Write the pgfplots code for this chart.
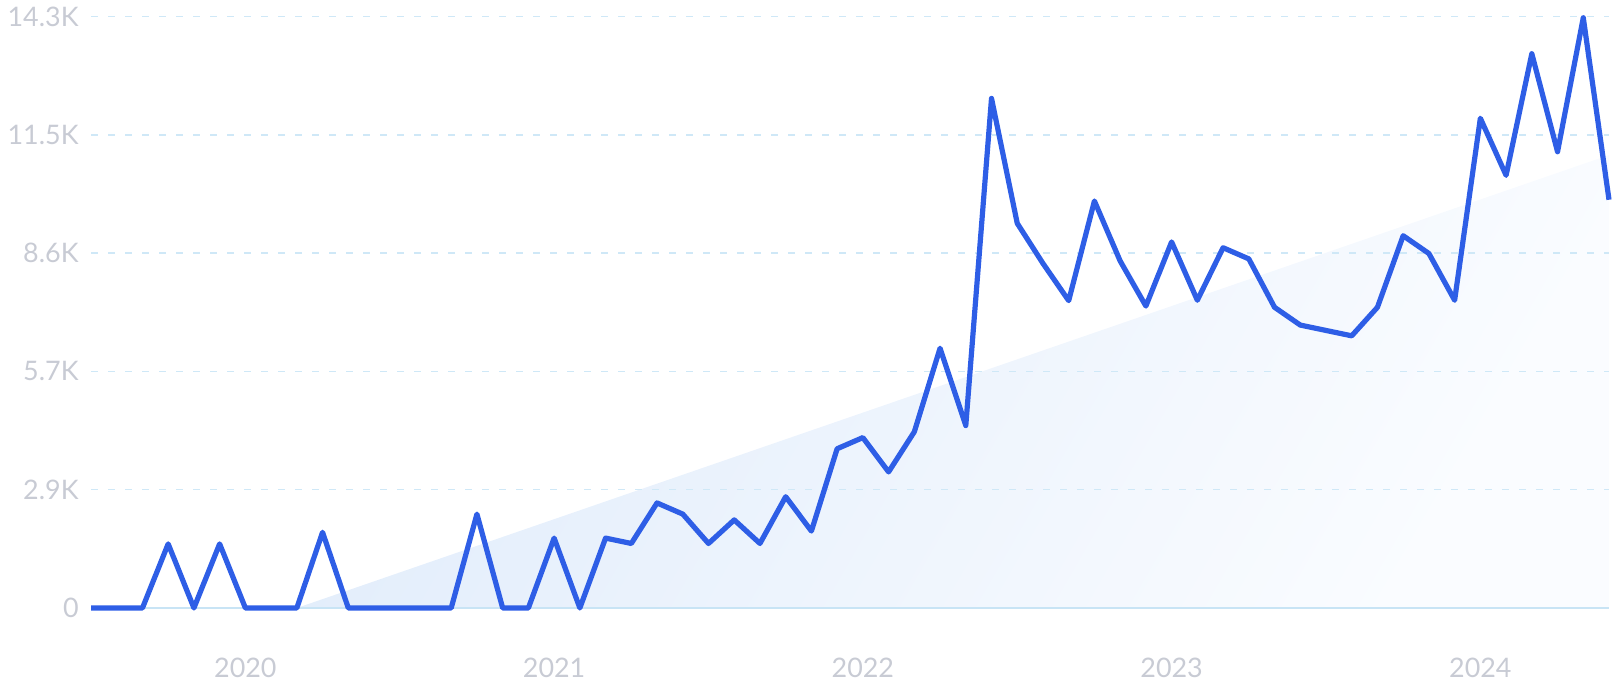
\documentclass[border=0pt]{standalone}
\usepackage{fontspec}
\setmainfont{Lato}
\usepackage{pgfplots}
\pgfplotsset{compat=1.18}
\usepackage{pgfplotstable}

\definecolor{linecol}{RGB}{46,94,230}
\definecolor{gridcol}{RGB}{207,232,247}
\definecolor{basecol}{RGB}{200,228,245}
\definecolor{labelcol}{RGB}{200,203,212}
\definecolor{fillA}{RGB}{226,237,251}
\definecolor{fillB}{RGB}{250,252,255}

% month index 0 = Jul 2019
\pgfplotstableread{
m v
0 0
1 0
2 0
3 1550
4 0
5 1550
6 0
7 0
8 0
9 1830
10 0
11 0
12 0
13 0
14 0
15 2270
16 0
17 0
18 1690
19 0
20 1690
21 1560
22 2540
23 2270
24 1560
25 2130
26 1560
27 2690
28 1860
29 3850
30 4120
31 3290
32 4260
33 6280
34 4410
35 12320
36 9300
37 8330
38 7430
39 9840
40 8390
41 7300
42 8850
43 7440
44 8710
45 8440
46 7270
47 6840
48 6710
49 6580
50 7270
51 9000
52 8570
53 7440
54 11840
55 10460
56 13400
57 11030
58 14270
59 9870
}\trend

\pgfplotstableread{
m v
8 0
59 10950
}\trendline

\begin{document}
\begin{tikzpicture}
\begin{axis}[
    name=ax,
    set layers=standard,
    scale only axis,
    width=759bp, height=295.75bp,
    xmin=0, xmax=59, ymin=0, ymax=14300,
    clip=false,
    scaled y ticks=false,
    axis lines*=left,
    axis line style={-},
    y axis line style={draw=none},
    x axis line style={draw=basecol, line width=0.8bp},
    major tick length=0pt,
    xtick={6,18,30,42,54},
    xticklabels={2020,2021,2022,2023,2024},
    ytick={0,2860,5720,8580,11440,14300},
    yticklabels={0,2.9K,5.7K,8.6K,11.5K,14.3K},
    ymajorgrids,
    grid style={draw=gridcol, line width=0.8bp, dash pattern=on 3.5bp off 5bp},
    tick label style={font=\fontsize{13.5}{15}\selectfont, text=labelcol},
    /pgf/number format/assume math mode=true,
    yticklabel style={anchor=east, inner sep=0pt, xshift=-6bp},
    xticklabel style={anchor=center, inner sep=0pt, yshift=-30bp},
]
\addplot[draw=none, left color=fillA, right color=fillB, shading angle=60,
    on layer=axis background] table[x=m, y=v] {\trendline} \closedcycle;
\addplot[linecol, line width=2.6bp, line join=round, mark=none]
    table[x=m, y=v] {\trend};
\end{axis}
\path ([shift={(-45.5bp,-46bp)}]ax.south west) rectangle ([shift={(2bp,8.25bp)}]ax.north east);
\end{tikzpicture}
\end{document}
